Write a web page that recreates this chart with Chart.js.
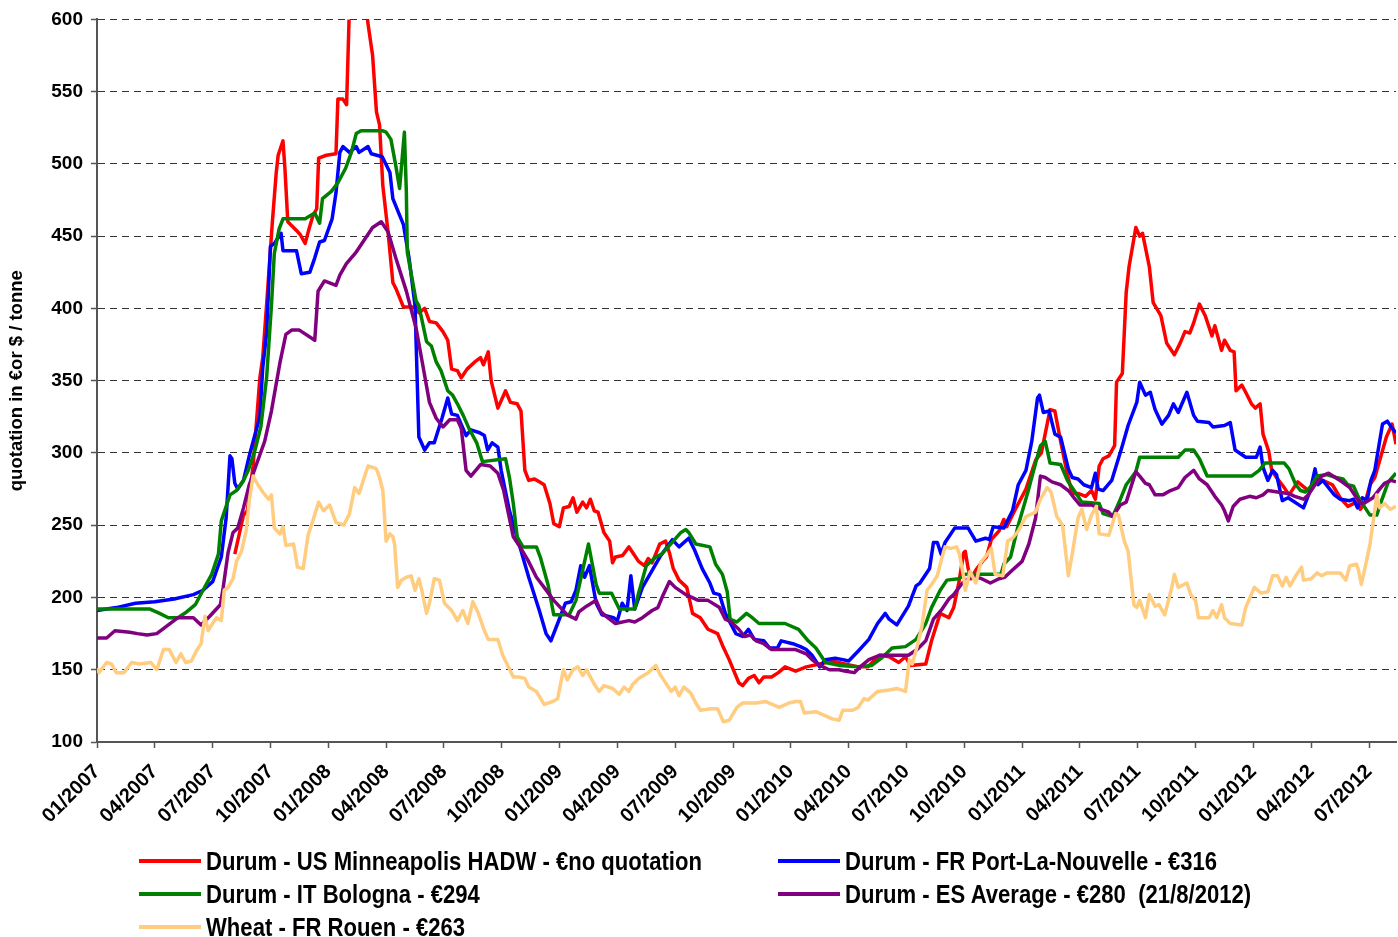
<!DOCTYPE html>
<html>
<head>
<meta charset="utf-8">
<script src="https://cdn.jsdelivr.net/npm/chart.js@4"></script>
<style>
  html, body { margin: 0; padding: 0; background: #fff; }
  #wrap { position: relative; width: 1398px; height: 937px; overflow: hidden; }
  #chart { position: absolute; left: 0; top: 0; }
  .legend-item { position: absolute; height: 26px; display: flex; align-items: center; }
  .legend-item .swatch { width: 62px; height: 4px; margin-right: 5px; flex: none; }
  .legend-item .label {
    font: bold 26px "Liberation Sans", Arial, sans-serif;
    white-space: pre; color: #000;
    transform: scaleX(0.85); transform-origin: left center;
  }
</style>
</head>
<body>
<div id="wrap">
  <canvas id="chart" width="1398" height="937"></canvas>
  <div id="legend"></div>
</div>
<script>
// x = months since 01/2007, y = quotation
const tickMonths = [0, 3, 6, 9, 12, 15, 18, 21, 24, 27, 30, 33, 36, 39, 42, 45, 48, 51, 54, 57, 60, 63, 66];
const tickLabels = ['01/2007', '04/2007', '07/2007', '10/2007', '01/2008', '04/2008', '07/2008', '10/2008',
  '01/2009', '04/2009', '07/2009', '10/2009', '01/2010', '04/2010', '07/2010', '10/2010',
  '01/2011', '04/2011', '07/2011', '10/2011', '01/2012', '04/2012', '07/2012'];

const seriesNames = [
  'Durum - US Minneapolis HADW - €no quotation',
  'Durum - FR Port-La-Nouvelle - €316',
  'Durum - IT Bologna - €294',
  'Durum - ES Average - €280  (21/8/2012)',
  'Wheat - FR Rouen - €263'
];

const usMinneapolis = [[7.15,230],[7.6,257],[7.8,260],[8.1,291],[8.45,352],[8.6,366],[8.85,412],[9.1,460],[9.3,494],[9.4,506],[9.65,516],[9.75,497],[9.9,460],[10.35,454],[10.55,451],[10.8,445],[11.0,455],[11.2,464],[11.4,469],[11.5,504],[11.9,506],[12.4,507],[12.5,545],[12.75,545],[12.95,541],[13.1,610],[13.4,660],[13.8,650],[14.05,598],[14.3,575],[14.5,536],[14.66,527],[14.83,485],[15.1,453],[15.35,418],[15.5,414],[15.9,401],[16.56,401],[16.7,397],[17.0,400],[17.25,391],[17.6,390],[17.95,384],[18.2,378],[18.4,358],[18.7,357],[18.9,352],[19.2,358],[19.6,363],[19.9,366],[20.05,361],[20.3,370],[20.45,350],[20.8,331],[21.2,343],[21.45,335],[21.8,334],[22.0,329],[22.2,288],[22.4,281],[22.7,282],[22.95,280],[23.2,278],[23.5,265],[23.7,251],[23.99,249],[24.2,262],[24.5,263],[24.7,269],[24.9,259],[25.2,266],[25.4,262],[25.6,268],[25.8,260],[26.0,259],[26.3,245],[26.6,239],[26.75,224],[26.9,228],[27.27,229],[27.6,235],[27.8,231],[28.1,225],[28.4,222],[28.6,227],[28.8,224],[29.2,237],[29.5,239],[29.7,231],[29.9,220],[30.2,212],[30.6,207],[30.9,189],[31.3,186],[31.7,178],[32.2,175],[32.45,167],[32.8,157],[33.3,141],[33.5,139],[33.8,144],[34.1,146],[34.35,141],[34.6,145],[35.0,145],[35.35,148],[35.7,152],[36.25,149],[36.8,152],[37.5,154],[38.15,156],[38.8,154],[39.5,152],[40.0,152],[40.6,160],[41.1,159],[41.6,155],[41.95,159],[42.2,153],[43.0,154],[43.3,170],[43.75,189],[44.2,186],[44.45,193],[44.7,209],[44.97,231],[45.05,232],[45.2,220],[45.35,213],[45.6,219],[46.0,226],[46.15,228],[46.4,240],[46.8,246],[47.05,254],[47.2,249],[47.65,261],[48.2,275],[48.7,295],[49.0,300],[49.45,330],[49.7,329],[50.0,308],[50.35,285],[50.6,272],[50.9,272],[51.3,270],[51.6,274],[51.8,268],[52.0,291],[52.2,296],[52.5,298],[52.8,305],[52.9,349],[53.2,355],[53.4,411],[53.55,429],[53.9,456],[54.1,450],[54.25,452],[54.6,429],[54.8,404],[55.2,395],[55.5,376],[55.9,368],[56.2,376],[56.45,384],[56.7,383],[56.9,390],[57.2,403],[57.5,395],[57.85,381],[58.0,388],[58.35,371],[58.5,378],[58.8,371],[59.0,370],[59.1,343],[59.4,347],[59.6,342],[59.9,334],[60.1,331],[60.35,334],[60.5,313],[60.8,301],[60.95,288],[61.2,283],[61.6,276],[61.85,271],[62.3,280],[62.85,274],[63.2,281],[63.6,281],[64.1,278],[64.5,269],[64.9,263],[65.35,266],[65.55,261],[65.8,266],[66.05,278],[66.3,283],[66.6,297],[66.9,311],[67.2,320],[67.4,306]];

const frPortLaNouvelle = [[0,191],[0.5,192],[1,193],[2,196],[3,197],[4,199],[5,202],[5.5,205],[6,211],[6.45,228],[6.7,255],[6.9,298],[7.0,296],[7.15,279],[7.3,275],[7.6,281],[7.9,298],[8.1,308],[8.45,325],[8.6,359],[8.8,383],[9.0,443],[9.2,445],[9.55,452],[9.65,440],[10.35,440],[10.6,424],[11.04,425],[11.3,435],[11.55,446],[11.8,447],[12.2,462],[12.4,480],[12.6,508],[12.76,512],[13.1,508],[13.45,512],[13.6,508],[14.06,512],[14.23,507],[14.8,505],[15.2,494],[15.35,476],[15.9,458],[16.2,434],[16.5,402],[16.56,375],[16.7,311],[17.0,302],[17.25,307],[17.5,307],[17.9,324],[18.2,338],[18.4,327],[18.7,326],[19.15,312],[19.4,316],[19.85,314],[20.1,312],[20.27,302],[20.5,307],[20.8,304],[20.97,288],[21.4,260],[21.9,237],[22.4,214],[22.95,191],[23.3,175],[23.55,170],[23.9,182],[24.3,196],[24.6,197],[24.85,205],[25.1,222],[25.3,214],[25.55,222],[25.9,196],[26.2,188],[26.8,186],[27.0,184],[27.25,196],[27.5,191],[27.7,215],[27.9,192],[28.3,207],[29.2,228],[29.85,240],[30.2,235],[30.7,241],[31.0,233],[31.4,220],[31.8,210],[32.0,203],[32.3,202],[32.6,189],[33.15,175],[33.5,173],[33.8,178],[34.1,171],[34.6,170],[34.9,165],[35.3,165],[35.5,170],[36.1,168],[36.5,166],[36.8,164],[37.1,160],[37.5,152],[37.8,157],[38.3,158],[38.7,157],[39.0,156],[39.5,163],[40.05,171],[40.5,182],[40.9,189],[41.1,185],[41.5,181],[42.1,194],[42.5,208],[42.7,210],[43.2,220],[43.4,238],[43.6,238],[43.8,230],[44.0,238],[44.5,248],[45.2,248],[45.6,239],[46.1,241],[46.3,240],[46.5,249],[47.05,248],[47.5,260],[47.8,278],[48.2,288],[48.5,308],[48.8,338],[48.9,340],[49.1,328],[49.4,329],[49.7,313],[50.0,311],[50.4,289],[50.6,283],[50.9,282],[51.2,278],[51.6,276],[51.8,286],[51.95,275],[52.2,274],[52.65,281],[53.2,305],[53.5,319],[53.95,335],[54.1,349],[54.4,340],[54.65,342],[54.9,330],[55.25,320],[55.6,326],[55.85,334],[56.1,328],[56.55,342],[56.9,326],[57.1,322],[57.7,321],[57.9,318],[58.5,319],[58.8,321],[59.05,302],[59.6,297],[60.15,297],[60.35,304],[60.5,290],[60.75,281],[61.0,288],[61.2,285],[61.5,267],[61.8,269],[62.6,262],[62.95,274],[63.2,289],[63.35,278],[63.6,281],[64.2,271],[64.5,268],[65.0,267],[65.2,268],[65.4,262],[65.65,269],[65.9,267],[66.1,281],[66.3,288],[66.7,320],[66.95,322],[67.2,317],[67.4,314]];

const itBologna = [[0,192],[2.75,192],[3.25,189],[3.7,186],[4.2,186],[4.65,190],[5.1,195],[5.5,205],[5.95,216],[6.3,230],[6.45,253],[6.9,271],[7.24,274],[7.6,281],[7.85,288],[8.2,302],[8.5,318],[8.8,352],[9.05,402],[9.2,438],[9.45,455],[9.65,462],[10.8,462],[11.3,466],[11.55,459],[11.7,476],[12.16,481],[12.5,487],[12.9,497],[13.2,508],[13.45,521],[13.7,523],[14.8,523],[15.0,522],[15.25,517],[15.5,499],[15.7,483],[15.95,522],[16.05,481],[16.1,439],[16.56,405],[16.7,402],[17.1,377],[17.35,374],[17.6,363],[17.85,357],[18.2,343],[18.45,340],[18.7,334],[19.0,326],[19.3,317],[19.7,307],[20.0,294],[21.2,296],[21.4,283],[21.6,265],[21.8,242],[22.1,235],[22.8,235],[23.0,228],[23.4,209],[23.7,188],[24.5,188],[24.85,198],[25.2,219],[25.5,237],[25.9,209],[26.06,203],[26.7,203],[27.1,192],[27.9,192],[28.1,203],[28.5,222],[29.0,228],[29.3,230],[29.9,239],[30.3,245],[30.55,247],[30.7,245],[31.07,237],[31.8,235],[32.1,223],[32.45,216],[32.7,204],[32.85,185],[33.2,183],[33.7,189],[34.0,186],[34.35,182],[35.7,182],[36.4,178],[36.9,170],[37.3,165],[37.8,155],[38.5,153],[39.5,152],[40.2,153],[40.7,158],[41.25,165],[41.95,166],[42.5,171],[43.0,182],[43.3,193],[43.75,205],[44.1,212],[44.7,213],[45.05,216],[46.9,216],[47.05,223],[47.4,228],[47.8,250],[48.3,273],[48.7,293],[48.95,305],[49.2,308],[49.45,293],[50.0,292],[50.35,281],[50.8,272],[51.1,266],[52.0,265],[52.2,258],[52.7,256],[53.1,268],[53.4,278],[53.9,287],[54.1,297],[56.1,297],[56.45,302],[56.9,302],[57.2,296],[57.6,284],[59.9,284],[60.3,288],[60.6,293],[61.6,293],[61.85,289],[62.2,278],[62.45,274],[62.7,273],[63.0,277],[63.3,284],[63.8,285],[64.3,283],[64.65,282],[64.9,278],[65.2,277],[65.5,268],[65.8,262],[66.05,257],[66.4,257],[66.65,267],[67.0,280],[67.4,286]];

const esAverage = [[0,172],[0.5,172],[0.93,177],[1.7,176],[2.1,175],[2.6,174],[3.1,175],[3.6,180],[4.2,186],[5.0,186],[5.4,181],[5.85,187],[6.4,195],[6.55,207],[6.8,231],[7.06,245],[7.3,248],[7.6,262],[7.9,278],[8.27,292],[8.7,308],[9.05,329],[9.5,363],[9.8,382],[10.1,385],[10.5,385],[11.3,378],[11.47,412],[11.8,419],[12.4,416],[12.6,423],[12.94,431],[13.45,439],[13.9,448],[14.3,456],[14.75,460],[15.1,453],[15.5,435],[16.05,412],[16.56,386],[16.9,361],[17.25,335],[17.6,324],[17.95,318],[18.3,323],[18.7,323],[18.9,317],[19.15,288],[19.4,284],[19.9,292],[20.4,291],[20.8,286],[21.1,274],[21.6,242],[21.9,236],[22.35,226],[22.8,214],[23.2,207],[23.7,198],[24.05,193],[24.4,188],[24.85,185],[25.0,190],[25.4,194],[25.9,198],[26.15,190],[26.5,186],[26.9,182],[27.6,184],[27.9,183],[28.3,186],[28.8,191],[29.1,193],[29.35,201],[29.7,211],[30.0,207],[30.55,202],[31.2,198],[31.7,198],[32.3,193],[32.6,185],[32.9,183],[33.3,178],[33.6,173],[33.9,174],[34.2,170],[34.6,168],[35.0,164],[36.25,164],[36.8,161],[37.1,157],[37.5,153],[38.0,150],[38.5,150],[38.85,149],[39.3,148],[39.6,152],[40.05,157],[40.6,160],[42.1,160],[42.55,164],[43.0,170],[43.4,185],[43.85,192],[44.2,199],[44.45,202],[44.9,210],[45.4,215],[45.9,213],[46.35,210],[46.8,213],[47.1,214],[47.5,219],[48.0,225],[48.35,237],[48.7,255],[48.95,284],[49.2,283],[49.55,280],[50.0,278],[50.4,274],[50.75,268],[51.0,264],[51.6,264],[52.1,261],[52.5,259],[52.7,256],[53.1,264],[53.4,266],[53.9,287],[54.1,284],[54.4,279],[54.6,278],[54.9,271],[55.3,271],[55.7,274],[56.1,276],[56.45,283],[56.9,288],[57.2,282],[57.6,278],[58.0,270],[58.35,264],[58.5,260],[58.7,253],[58.95,263],[59.3,268],[59.8,270],[60.15,269],[60.5,271],[60.75,274],[61.25,273],[61.8,272],[62.15,270],[62.6,268],[62.85,271],[63.2,278],[63.55,284],[63.9,286],[64.25,283],[64.6,280],[65.0,276],[65.35,269],[65.6,265],[65.85,266],[66.2,269],[66.55,275],[66.8,279],[67.15,281],[67.4,280]];

const wheatRouen = [[0.0,151],[0.1,148],[0.5,155],[0.75,154],[1.0,148],[1.4,148],[1.8,155],[2.2,154],[2.8,155],[3.1,150],[3.45,164],[3.75,164],[4.1,155],[4.35,161],[4.6,155],[4.9,156],[5.15,163],[5.4,168],[5.6,187],[5.77,177],[5.95,181],[6.2,186],[6.45,184],[6.6,205],[6.8,207],[7.06,213],[7.24,225],[7.5,232],[7.75,247],[7.9,267],[8.1,284],[8.35,278],[8.6,273],[8.9,268],[9.05,271],[9.2,248],[9.5,244],[9.65,249],[9.8,236],[10.2,237],[10.4,221],[10.7,220],[10.95,243],[11.2,253],[11.5,266],[11.75,260],[12.07,264],[12.4,252],[12.8,250],[13.1,258],[13.37,276],[13.6,272],[14.06,291],[14.3,290],[14.5,289],[14.66,283],[14.83,274],[15.0,239],[15.2,244],[15.35,242],[15.44,237],[15.6,207],[15.8,212],[16.05,214],[16.3,215],[16.5,205],[16.7,213],[16.85,205],[17.1,189],[17.25,196],[17.5,213],[17.77,212],[18.03,196],[18.4,191],[18.7,184],[18.98,191],[19.24,182],[19.5,197],[19.76,190],[20.1,177],[20.3,171],[20.8,171],[21.05,160],[21.6,145],[21.9,145],[22.2,144],[22.4,138],[22.8,135],[23.2,126],[23.65,128],[23.9,130],[24.2,150],[24.4,143],[24.7,150],[24.95,152],[25.2,146],[25.4,150],[25.8,140],[26.06,135],[26.3,139],[26.75,137],[27.1,133],[27.35,138],[27.6,135],[27.8,140],[28.1,144],[28.6,148],[29.0,153],[29.2,147],[29.4,143],[29.8,135],[30.0,138],[30.2,132],[30.45,138],[30.8,134],[31.07,127],[31.3,122],[31.85,123],[32.2,123],[32.5,114],[32.8,115],[33.2,124],[33.5,127],[34.2,127],[34.7,128],[35.4,124],[35.9,127],[36.25,128],[36.5,128],[36.7,120],[37.3,121],[38.15,116],[38.5,115],[38.7,122],[39.2,122],[39.5,124],[39.8,130],[40.0,129],[40.5,135],[41.1,136],[41.5,137],[41.95,135],[42.15,157],[42.3,154],[42.55,166],[42.8,180],[43.07,205],[43.3,209],[43.6,215],[43.85,228],[44.0,235],[44.3,234],[44.6,235],[44.75,230],[44.97,214],[45.05,205],[45.3,218],[45.6,210],[45.85,224],[46.2,230],[46.4,234],[46.6,216],[47.0,215],[47.25,239],[47.5,241],[47.8,246],[48.2,256],[48.7,259],[48.95,268],[49.3,276],[49.5,273],[49.8,256],[50.1,250],[50.4,215],[50.6,230],[50.9,255],[51.1,261],[51.35,247],[51.6,257],[51.85,263],[52.0,244],[52.5,243],[52.85,258],[53.0,257],[53.3,239],[53.5,232],[53.8,195],[53.95,193],[54.1,198],[54.4,186],[54.6,202],[54.9,194],[55.1,195],[55.4,188],[55.75,206],[55.9,216],[56.1,207],[56.55,210],[56.75,202],[57.0,198],[57.15,186],[57.7,186],[57.9,191],[58.1,186],[58.35,195],[58.5,186],[58.8,182],[59.4,181],[59.6,193],[60.05,207],[60.4,203],[60.75,204],[61.0,215],[61.25,215],[61.5,208],[61.7,214],[61.9,208],[62.2,215],[62.5,221],[62.6,212],[63.0,213],[63.3,217],[63.55,215],[63.8,217],[64.5,217],[64.8,212],[65.0,222],[65.35,223],[65.45,219],[65.6,209],[65.8,221],[66.05,237],[66.2,251],[66.4,271],[66.55,262],[66.8,265],[67.1,261],[67.4,263]];

const FONT = '"Liberation Sans", Arial, sans-serif';
const seriesColors = ['#ff0000', '#0000ff', '#008000', '#800080', '#ffcc80'];
const allSeries = [usMinneapolis, frPortLaNouvelle, itBologna, esAverage, wheatRouen];

const datasets = allSeries.map((pts, i) => ({
    label: seriesNames[i],
    data: pts.map(p => ({ x: p[0], y: p[1] })),
    borderColor: seriesColors[i],
    backgroundColor: seriesColors[i],
    borderWidth: 3.5,
    pointRadius: 0,
    tension: 0,
    fill: false,
    borderJoinStyle: 'round',
    order: allSeries.length - i   // later series drawn on top, as in the original
}));

new Chart(document.getElementById('chart').getContext('2d'), {
    type: 'line',
    data: { datasets: datasets },
    options: {
        responsive: false,
        animation: false,
        layout: { padding: { top: 17, right: 0, bottom: 95, left: 0 } },
        plugins: { legend: { display: false }, tooltip: { enabled: false } },
        scales: {
            x: {
                type: 'linear',
                min: 0,
                max: 67.4,
                afterBuildTicks: axis => { axis.ticks = tickMonths.map(v => ({ value: v })); },
                afterFit: axis => { axis.height = 100; },
                grid: { drawOnChartArea: false, drawTicks: true, tickLength: 6, tickColor: '#555', tickWidth: 1.5 },
                border: { color: '#555', width: 2 },
                ticks: {
                    autoSkip: false,
                    minRotation: 45,
                    maxRotation: 45,
                    padding: 12,
                    color: '#000',
                    font: { family: FONT, size: 20, weight: 'bold' },
                    callback: (value, index) => tickLabels[index]
                }
            },
            y: {
                min: 100,
                max: 600,
                afterFit: axis => { axis.width = 97; },
                ticks: { stepSize: 50, padding: 8, color: '#000', font: { family: FONT, size: 19, weight: 'bold' } },
                grid: { color: '#333', lineWidth: 1, drawTicks: true, tickLength: 6, tickColor: '#555', tickWidth: 1.5 },
                border: { color: '#555', width: 2, dash: [7, 5] },
                title: {
                    display: true,
                    text: 'quotation in €or $ / tonne',
                    color: '#000',
                    font: { family: FONT, size: 18.5, weight: 'bold' },
                    padding: { top: 6, bottom: 0 }
                }
            }
        }
    }
});

// legend: two columns like the original, built from the datasets
const legendSlots = [[139, 848], [778, 848], [139, 881], [778, 881], [139, 914]];
const legendEl = document.getElementById('legend');
datasets.forEach((ds, i) => {
    const item = document.createElement('div');
    item.className = 'legend-item';
    item.style.left = legendSlots[i][0] + 'px';
    item.style.top = legendSlots[i][1] + 'px';
    const sw = document.createElement('span');
    sw.className = 'swatch';
    sw.style.background = ds.borderColor;
    const lab = document.createElement('span');
    lab.className = 'label';
    lab.textContent = ds.label;
    item.appendChild(sw);
    item.appendChild(lab);
    legendEl.appendChild(item);
});
</script>
</body>
</html>
